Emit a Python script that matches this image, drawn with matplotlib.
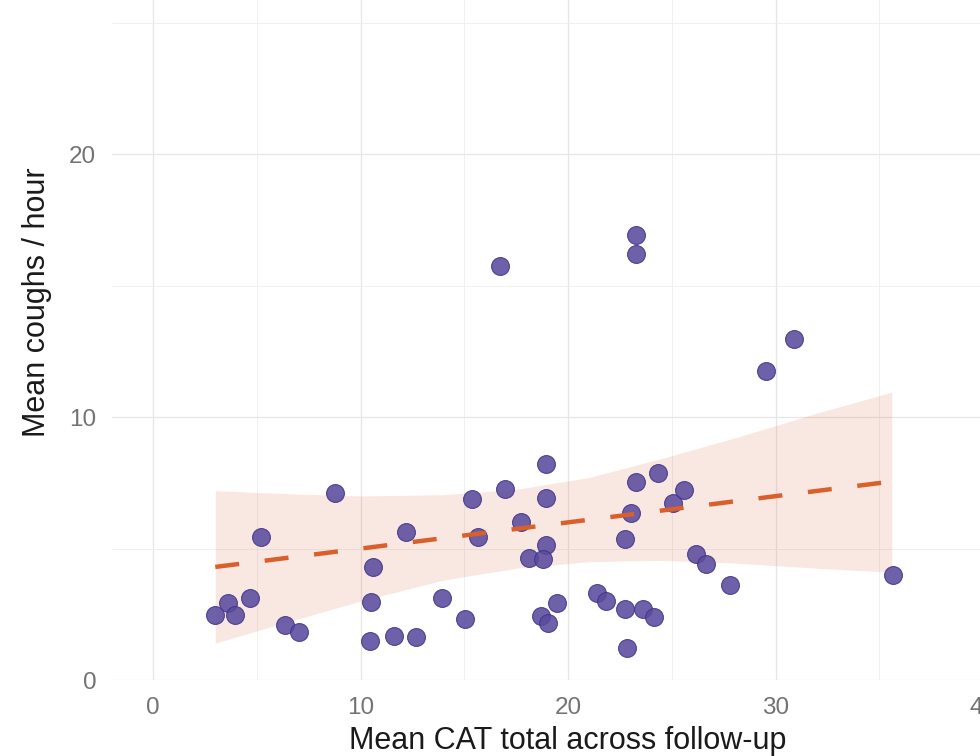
import numpy as np
import matplotlib
matplotlib.use("Agg")
import matplotlib.pyplot as plt

plt.rcParams['font.family'] = ['Liberation Sans', 'DejaVu Sans']

# mean CAT total vs mean coughs per hour (one point per participant)
cat_mean = [2.99, 3.6, 3.95, 4.67, 5.2, 6.36, 7.04, 8.77, 10.6, 10.5,
            10.46, 11.6, 12.67, 12.19, 13.93, 15.04, 15.37, 15.66, 16.72, 16.96,
            17.74, 18.1, 18.7, 18.94, 18.94, 18.94, 18.8, 19.04, 19.47, 21.4,
            21.83, 22.75, 22.75, 22.84, 23.04, 23.28, 23.28, 23.28, 23.6, 24.14,
            24.34, 25.06, 25.6, 26.17, 26.65, 27.8, 29.54, 30.89, 35.66]
coughs_mean = [2.47, 2.93, 2.47, 3.12, 5.44, 2.09, 1.83, 7.11, 4.30, 2.97,
               1.48, 1.67, 1.63, 5.63, 3.12, 2.32, 6.88, 5.44, 15.74, 7.26,
               6.0, 4.64, 2.43, 8.21, 6.92, 5.13, 4.6, 2.17, 2.93, 3.31,
               3.0, 5.36, 2.70, 1.22, 6.35, 16.92, 16.2, 7.53, 2.70, 2.40,
               7.87, 6.73, 7.22, 4.79, 4.41, 3.61, 11.75, 12.97, 3.99]

# fitted trend and its confidence band
fit_x = [3.0, 35.6]
fit_y = [4.30, 7.55]
band_x = [3.0, 6.0, 10.0, 14.0, 17.5, 21.0, 24.4, 28.0, 32.0, 35.6]
band_lo = [1.40, 2.10, 3.00, 3.80, 4.25, 4.50, 4.55, 4.45, 4.25, 4.10]
band_hi = [7.20, 7.10, 7.00, 7.05, 7.25, 7.70, 8.40, 9.20, 10.15, 10.95]

x_ticks = [0, 10, 20, 30, 40]
y_ticks = [0, 10, 20]

fig = plt.figure(figsize=(9.8, 7.56), dpi=100)
# panel runs past the right and top edges (the original is a crop)
ax = fig.add_axes([0.1138, 0.1005, 0.9316, 1.0])

ax.set_xlim(-2, 42)
ax.set_ylim(0, 28.75)
ax.set_xticks(x_ticks)
ax.set_yticks(y_ticks)
ax.set_xticks([5, 15, 25, 35], minor=True)
ax.set_yticks([5, 15, 25], minor=True)

ax.grid(which='major', color='#e6e6e6', linewidth=0.9)
ax.grid(which='minor', color='#eeeeee', linewidth=0.6)
ax.set_axisbelow(True)
for s in ax.spines.values():
    s.set_visible(False)
ax.tick_params(which='both', length=0)
ax.tick_params(axis='both', labelsize=17.5, labelcolor='#737373')
ax.tick_params(axis='x', pad=12)
ax.tick_params(axis='y', pad=11)

ax.fill_between(band_x, band_lo, band_hi, color='#D95F2B', alpha=0.14,
                linewidth=0, zorder=1)
ax.scatter(cat_mean, coughs_mean, s=165, color='#5b4b9d', alpha=0.88,
           edgecolors='#40358a', linewidths=0.8, zorder=3)
ax.plot(fit_x, fit_y, color='#D95F2B', linewidth=3.2, dashes=(5.4, 5.8),
        solid_capstyle='butt', dash_capstyle='butt', zorder=4)

ax.set_xlabel('Mean CAT total across follow-up', fontsize=22,
              color='#1a1a1a', labelpad=5)
ax.set_ylabel('Mean coughs / hour', fontsize=22, color='#1a1a1a',
              labelpad=12)

fig.savefig('out.png', dpi=100)
